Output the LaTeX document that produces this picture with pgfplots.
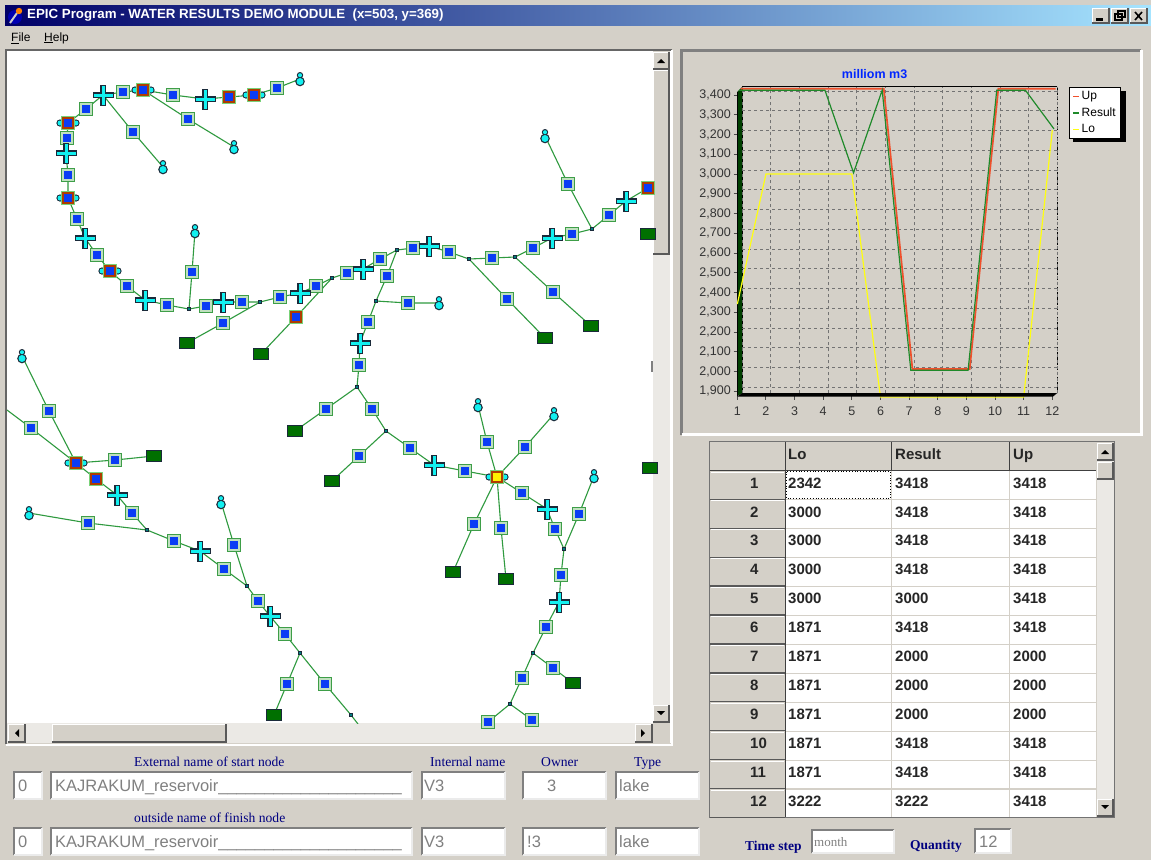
\documentclass[border=0pt]{standalone}
\usepackage{fontspec}
\setmainfont{Liberation Sans}
\newfontfamily\serif{Liberation Serif}
\usepackage{pgfplots}
\pgfplotsset{compat=1.18}

\definecolor{win}{HTML}{D4D0C8}
\definecolor{track}{HTML}{EBE9E5}
\definecolor{navy}{HTML}{000080}
\definecolor{greytxt}{HTML}{808080}
\definecolor{edgegreen}{HTML}{2F9A3F}
\definecolor{framegreen}{HTML}{3E9E48}
\definecolor{ringgreen}{HTML}{BFE0BF}
\definecolor{nodeblue}{HTML}{0A3CF5}
\definecolor{nodered}{HTML}{B03C00}
\definecolor{nodecyan}{HTML}{12F0F0}
\definecolor{outl}{HTML}{1A2A3A}
\definecolor{lake}{HTML}{007000}
\definecolor{upred}{HTML}{F0502C}
\definecolor{resgreen}{HTML}{1F8A2A}
\definecolor{loyellow}{HTML}{FFFF10}

% mark helpers, 1pt = 1 pixel
\newcommand{\mrect}[3]{\pgfsetfillcolor{#1}\pgfpathrectanglecorners{\pgfpoint{-#2pt}{-#3pt}}{\pgfpoint{#2pt}{#3pt}}\pgfusepathqfill}
\newcommand{\mcirc}[4]{\pgfsetfillcolor{#1}\pgfpathcircle{\pgfpoint{#2pt}{#3pt}}{#4pt}\pgfusepathqfill}
\pgfdeclareplotmark{pool}{\mrect{framegreen}{7.4}{7.4}\mrect{ringgreen}{5.9}{5.9}\mrect{nodeblue}{4.2}{4.2}}
\pgfdeclareplotmark{res}{\mrect{green!50!gray!70}{7.4}{7.4}\mrect{nodered}{6.3}{6.3}\mrect{nodeblue}{4.3}{4.3}}
\pgfdeclareplotmark{resnub}{\mcirc{outl}{-8}{0}{3.6}\mcirc{outl}{8}{0}{3.6}\mcirc{nodecyan}{-8}{0}{2.5}\mcirc{nodecyan}{8}{0}{2.5}\mrect{green!50!gray!70}{7.4}{7.4}\mrect{nodered}{6.3}{6.3}\mrect{nodeblue}{4.3}{4.3}}
\pgfdeclareplotmark{sel}{\mcirc{outl}{-8}{0}{3.6}\mcirc{outl}{8}{0}{3.6}\mcirc{nodecyan}{-8}{0}{2.5}\mcirc{nodecyan}{8}{0}{2.5}\mrect{green!50!gray!70}{7.4}{7.4}\mrect{nodered}{6.3}{6.3}\mrect{yellow}{4.3}{4.3}}
\pgfdeclareplotmark{plusn}{%
  \pgfsetfillcolor{outl}\pgfpathrectanglecorners{\pgfpoint{-10.5pt}{-2.6pt}}{\pgfpoint{10.5pt}{2.6pt}}\pgfusepathqfill
  \pgfpathrectanglecorners{\pgfpoint{-2.6pt}{-10.5pt}}{\pgfpoint{2.6pt}{10.5pt}}\pgfusepathqfill
  \pgfsetfillcolor{nodecyan}\pgfpathrectanglecorners{\pgfpoint{-9.5pt}{-1.5pt}}{\pgfpoint{9.5pt}{1.5pt}}\pgfusepathqfill
  \pgfpathrectanglecorners{\pgfpoint{-1.5pt}{-9.5pt}}{\pgfpoint{1.5pt}{9.5pt}}\pgfusepathqfill}
\pgfdeclareplotmark{drop}{\mcirc{outl}{0}{3.8}{3.2}\mcirc{outl}{0}{-2.5}{4.8}\mcirc{nodecyan}{0}{3.8}{2}\mcirc{nodecyan}{0}{-2.5}{3.5}}
\pgfdeclareplotmark{outlet}{\mrect{outl}{8}{5.7}\mrect{lake}{7}{4.7}}
\pgfdeclareplotmark{joint}{\mrect{outl}{2.2}{2.2}\mrect{teal}{1.2}{1.2}}

\newcommand{\sunken}[4]{%
  \fill[white] (#1,#2) rectangle (#3,#4);
  \draw[gray,line width=2pt] (#1,#4) -- (#1,#2) -- (#3,#2);
  \draw[white!92!black,line width=1.2pt] (#1,#4) -- (#3,#4) -- (#3,#2);}
\newcommand{\btn}[4]{%
  \fill[win] (#1,#2) rectangle (#3,#4);
  \draw[white,line width=1pt] (#1,#4) -- (#1,#2) -- (#3,#2);
  \draw[black!65,line width=1.2pt] (#1,#4) -- (#3,#4) -- (#3,#2);}

\begin{document}
\begin{tikzpicture}
\path[use as bounding box] (0pt,0pt) rectangle (1151pt,-860pt);

\begin{scope}[x=1pt,y=-1pt]
% window
\fill[win] (0,0) rectangle (1151,860);
\shade[left color=black!10!blue!45!black,right color=blue!30!cyan!35!white] (5,5) rectangle (1151,25);
\fill[blue!70!black] (15,17) circle (7);
\draw[gray!40,line width=2pt] (10,23) -- (17,13);
\fill[orange] (19,11) circle (3.2);
\node[anchor=west,inner sep=0pt,text=white,font=\fontsize{13.3}{14}\selectfont\bfseries] at (27,15.5) {EPIC Program - WATER RESULTS DEMO MODULE\ \ (x=503, y=369)};
\btn{1092}{8}{1109}{23}\btn{1111}{8}{1128}{23}\btn{1130}{8}{1147}{23}
\fill[black] (1096,18) rectangle (1103,20.5);
\draw[black,line width=1.2pt] (1118,11) rectangle (1125,17) (1115,14) rectangle (1122,20);
\draw[black,line width=1.6pt] (1135,12) -- (1142,20) (1142,12) -- (1135,20);
\node[anchor=west,inner sep=0pt,font=\fontsize{12}{14}\selectfont] at (11,38) {\underline{F}ile};
\node[anchor=west,inner sep=0pt,font=\fontsize{12}{14}\selectfont] at (44,38) {\underline{H}elp};

% map pane
\fill[white] (6,50) rectangle (672,743);
\draw[gray!80!black,line width=2pt] (6,744) -- (6,50) -- (672,50);
\draw[white,line width=2pt] (6,744.5) -- (672,744.5) -- (672,50);
\fill[win] (653,51) rectangle (670,743);
\fill[track] (653,255) rectangle (670,705);
\btn{653}{52}{669}{69}\btn{653}{70}{669}{254}\btn{653}{705}{669}{722}
\fill[black] (657,63) -- (665,63) -- (661,59) -- cycle;
\fill[black] (657,711) -- (665,711) -- (661,715) -- cycle;
\fill[track] (7,723) rectangle (653,743);
\btn{8}{724}{25}{742}\btn{52}{724}{226}{742}\btn{635}{724}{652}{742}
\fill[black] (19,729) -- (19,737) -- (15,733) -- cycle;
\fill[black] (641,729) -- (641,737) -- (645,733) -- cycle;

% chart panel
\draw[gray,line width=3pt] (681.5,435) -- (681.5,50) -- (1141,50);
\draw[white,line width=3pt] (681.5,434) -- (1141,434) -- (1141,50);
\fill[black] (1073,91) rectangle (1125.7,142.3);
% left wall of the chart
\fill[black!35!green!38!black] (742.3,86.7) -- (737.3,91.7) -- (737.3,396) -- (742.3,393.3) -- cycle;
\draw[black,line width=1pt] (737.3,91.7) -- (737.3,396);
\draw[black,line width=1pt] (742.3,393.3) -- (742.3,86.7) -- (1057.3,86.7);
\draw[black,line width=1pt,dash pattern=on 3pt off 2pt] (1057.3,86.7) -- (1057.3,393.3);
\foreach \k in {0,...,11} \draw[black!70,line width=1pt] ({737.3+\k*28.65},396) -- ({737.3+\k*28.65},400);
\foreach \k in {0,...,15} \draw[black!70,line width=1pt] (733.5,{95+\k*19.75}) -- (737.3,{95+\k*19.75});

% table
\fill[black!55] (709,441) rectangle (1115,818);
\fill[win] (710,442) rectangle (1114,817);
\foreach \a/\b in {786/891,892/1009,1010/1096} \fill[white] (\a,471) rectangle (\b,817);
\foreach \k in {1,...,11} \draw[win,line width=1.2pt] (786,{470.6+\k*28.95}) -- (1096,{470.6+\k*28.95});
\draw[black!75,line width=1.2pt] (785.5,442) -- (785.5,817);
\draw[black!75,line width=1.2pt] (710,470.2) -- (1096,470.2);
\draw[black!75,line width=1.2pt] (891.5,442) -- (891.5,470) (1009.5,442) -- (1009.5,470);
\foreach \k in {0,...,11} {
  \draw[black!65,line width=1.2pt] (710,{499.2+\k*28.95}) -- (785,{499.2+\k*28.95});
  \draw[white,line width=1pt] (711,{472+\k*28.95}) -- (784,{472+\k*28.95});}
\draw[black,line width=.8pt,dotted] (786.5,471.5) rectangle (890.5,498.5);
\fill[track] (1097,461) rectangle (1114,816);
\btn{1097}{443}{1113}{460}\btn{1097}{462}{1113}{479}\btn{1097}{799}{1113}{816}
\fill[black] (1101,454) -- (1109,454) -- (1105,450) -- cycle;
\fill[black] (1101,805) -- (1109,805) -- (1105,809) -- cycle;
\begin{scope}[every node/.style={anchor=west,inner sep=0pt,text=black!85,font=\fontsize{15}{16}\selectfont\bfseries}]
\node[anchor=base west] at (788,459.4) {Lo};
\node[anchor=base west] at (895,459.4) {Result};
\node[anchor=base west] at (1013,459.4) {Up};
\foreach \n/\lo/\re/\up [count=\k from 0] in {
  1/2342/3418/3418,2/3000/3418/3418,3/3000/3418/3418,4/3000/3418/3418,5/3000/3000/3418,6/1871/3418/3418,
  7/1871/2000/2000,8/1871/2000/2000,9/1871/2000/2000,10/1871/3418/3418,11/1871/3418/3418,12/3222/3222/3418} {
  \node at (750,{483+\k*28.9}) {\n};
  \node at (788,{483+\k*28.9}) {\lo};
  \node at (895,{483+\k*28.9}) {\re};
  \node at (1013,{483+\k*28.9}) {\up};}
\end{scope}

% lower fields
\begin{scope}[every node/.style={anchor=base west,inner sep=0pt,text=navy,font=\serif\fontsize{13.6}{14}\selectfont}]
\node at (134,766) {External name of start node};
\node at (430,766) {Internal name};
\node at (541,766) {Owner};
\node at (634,766) {Type};
\node at (134,822) {outside name of finish node};
\end{scope}
\foreach \ya/\yb in {772/799,828/855} {
  \sunken{14}{\ya}{42}{\yb}\sunken{51}{\ya}{412}{\yb}\sunken{422}{\ya}{505}{\yb}\sunken{523}{\ya}{606}{\yb}\sunken{616}{\ya}{699}{\yb}}
\begin{scope}[every node/.style={anchor=base west,inner sep=0pt,text=greytxt,font=\fontsize{16.5}{17}\selectfont}]
\foreach \y/\own/\ox in {791.7/3/547,847.7/!3/527} {
  \node at (18,\y) {0};
  \node at (55,\y) {KAJRAKUM\_reservoir\_\_\_\_\_\_\_\_\_\_\_\_\_\_\_\_\_\_\_\_};
  \node at (424,\y) {V3};
  \node at (\ox,\y) {\own};
  \node at (619,\y) {lake};}
\end{scope}
\sunken{812}{830}{894}{853}\sunken{975}{829}{1011}{853}
\node[anchor=base west,inner sep=0pt,text=navy,font=\serif\bfseries\fontsize{13.5}{14}\selectfont] at (745,850) {Time step};
\node[anchor=base west,inner sep=0pt,text=navy,font=\serif\bfseries\fontsize{13.5}{14}\selectfont] at (910,849.5) {Quantity};
\node[anchor=base west,inner sep=0pt,text=greytxt,font=\serif\fontsize{13}{14}\selectfont] at (814,846) {month};
\node[anchor=base west,inner sep=0pt,text=greytxt,font=\fontsize{16.5}{17}\selectfont] at (979,847) {12};
\end{scope}

% network map, pixel coordinates of the screen
\begin{axis}[
  name=map, at={(7pt,-51pt)}, anchor=north west,
  width=646pt, height=672pt, scale only axis, hide axis,
  xmin=7, xmax=653, ymin=51, ymax=723, y dir=reverse,
  edge/.style={color=edgegreen,line width=1.1pt,mark=none,forget plot},
  nd/.style={only marks,mark=#1,forget plot},
]
\addplot[edge] coordinates {(300,79)(277,88)(254,95)(229,97)(205,99)(173,95)(143,90)(123,92)(103,95)(86,109)(68,123)(67,138)(66,153)(68,175)(68,198)(77,219)(85,238)(97,255)(110,271)(127,286)(145,300)(167,305)(189,309)(206,306)(223,302)(242,302)(260,302)(280,297)(300,293)(316,286)(332,278)(347,273)(363,269)(380,259)(397,250)(413,248)(429,246)(449,252)(469,259)(492,258)(515,257)(533,248)(552,238)(572,234)(592,229)(609,215)(626,201)(648,188)};
\addplot[edge] coordinates {(103,95)(133,132)(163,167)};
\addplot[edge] coordinates {(143,90)(188,119)(234,147)};
\addplot[edge] coordinates {(195,231)(192,272)(189,309)};
\addplot[edge] coordinates {(260,302)(223,323)(187,343)};
\addplot[edge] coordinates {(332,278)(296,317)(261,354)};
\addplot[edge] coordinates {(397,250)(387,276)(376,301)(368,322)(360,343)(359,365)(357,387)(372,409)(386,431)(410,448)(434,465)(465,471)(497,477)};
\addplot[edge] coordinates {(376,301)(408,303)(439,303)};
\addplot[edge] coordinates {(357,387)(326,409)(295,431)};
\addplot[edge] coordinates {(386,431)(359,456)(332,481)};
\addplot[edge] coordinates {(469,259)(507,299)(545,338)};
\addplot[edge] coordinates {(515,257)(553,292)(591,326)};
\addplot[edge] coordinates {(592,229)(568,184)(545,136)};
\addplot[edge] coordinates {(497,477)(487,442)(478,405)};
\addplot[edge] coordinates {(497,477)(525,447)(554,414)};
\addplot[edge] coordinates {(497,477)(474,524)(453,572)};
\addplot[edge] coordinates {(497,477)(501,528)(506,579)};
\addplot[edge] coordinates {(497,477)(522,493)(547,509)(555,529)(564,549)(561,575)(559,602)(546,627)(533,653)(522,678)(510,704)(488,722)};
\addplot[edge] coordinates {(510,704)(532,720)};
\addplot[edge] coordinates {(533,653)(553,668)(573,683)};
\addplot[edge] coordinates {(564,549)(579,514)(594,476)};
\addplot[edge] coordinates {(22,356)(49,411)(76,463)};
\addplot[edge] coordinates {(7,410)(31,428)(76,463)};
\addplot[edge] coordinates {(76,463)(115,460)(154,456)};
\addplot[edge] coordinates {(76,463)(96,479)(117,495)(132,513)(147,530)(174,541)(200,551)(224,569)(247,586)(258,601)(270,616)(285,634)(300,653)(287,684)(274,715)};
\addplot[edge] coordinates {(300,653)(325,684)(351,715)(358,724)};
\addplot[edge] coordinates {(29,513)(88,523)(147,530)};
\addplot[edge] coordinates {(221,502)(234,545)(247,586)};

\addplot[nd=pool] coordinates {(123,92)(173,95)(277,88)(86,109)(67,138)(133,132)(188,119)(68,175)(77,219)(97,255)(127,286)(167,305)(206,306)(242,302)(280,297)(316,286)(223,323)(192,272)
  (347,273)(380,259)(387,276)(413,248)(449,252)(492,258)(533,248)(572,234)(609,215)(568,184)(553,292)(507,299)(408,303)(368,322)(359,365)
  (49,411)(31,428)(115,460)(132,513)(88,523)(174,541)(224,569)(234,545)(258,601)(285,634)(287,684)(325,684)(326,409)
  (372,409)(359,456)(410,448)(465,471)(487,442)(525,447)(522,493)(474,524)(501,528)(555,529)(579,514)(561,575)(546,627)(553,668)(522,678)(488,722)(532,720)};
\addplot[nd=plusn] coordinates {(103,95)(205,99)(66,153)(85,238)(145,300)(223,302)(300,293)(363,269)(429,246)(552,238)(626,201)(360,343)(117,495)(200,551)(270,616)(434,465)(547,509)(559,602)};
\addplot[nd=resnub] coordinates {(143,90)(254,95)(68,123)(68,198)(110,271)(76,463)};
\addplot[nd=res] coordinates {(229,97)(296,317)(648,188)(96,479)};
\addplot[nd=sel] coordinates {(497,477)};
\addplot[nd=drop] coordinates {(300,79)(234,147)(163,167)(195,231)(545,136)(439,303)(22,356)(29,513)(221,502)(478,405)(554,414)(594,476)};
\addplot[nd=outlet] coordinates {(187,343)(261,354)(545,338)(591,326)(648,234)(154,456)(295,431)(332,481)(650,468)(274,715)(453,572)(506,579)(573,683)};
\addplot[nd=joint] coordinates {(189,309)(260,302)(332,278)(397,250)(469,259)(515,257)(592,229)(376,301)(357,387)(386,431)(147,530)(247,586)(300,653)(564,549)(533,653)(510,704)(351,715)};
\end{axis}

% the chart
\begin{axis}[
  name=chart, at={(742.3pt,-86.7pt)}, anchor=north west,
  width=315pt, height=306.6pt, scale only axis, clip=false,
  axis line style={draw=none},
  xmin=1, xmax=12, ymin=1870, ymax=3422,
  xtick={1,...,12}, ytick={1900,2000,...,3400},
  scaled ticks=false, major tick length=0pt,
  /pgf/number format/assume math mode=true,
  /pgf/number format/1000 sep={,},
  ticklabel style={font=\fontsize{12.5}{14}\selectfont,text=black!80},
  xticklabel style={xshift=-5pt,yshift=-10pt},
  yticklabel style={xshift=-8pt,yshift=-4pt},
  grid=major, grid style={gray!90!black,line width=.9pt,dash pattern=on 3pt off 3pt},
  title={\textbf{milliom m3}},
  title style={text=blue!85!cyan,font=\fontsize{12.5}{14}\selectfont,at={(0.42,1)},yshift=-1pt,anchor=south},
  legend style={at={(1.037,1)},anchor=north west,draw=black,fill=white,line width=.8pt,
    font=\fontsize{12}{14}\selectfont,inner xsep=3pt,inner ysep=2.5pt,row sep=2.5pt},
  legend cell align=left,
  legend image code/.code={\draw[#1,line width=1.8pt] (0pt,0pt) -- (5.5pt,0pt);},
]
\addlegendimage{upred}\addlegendentry{Up}
\addlegendimage{resgreen}\addlegendentry{Result}
\addlegendimage{loyellow}\addlegendentry{Lo}
\addplot[forget plot,upred,line width=1.7pt,xshift=-1.7pt,yshift=-1.3pt] coordinates {(1,3418)(2,3418)(3,3418)(4,3418)(5,3418)(6,3418)(7,2000)(8,2000)(9,2000)(10,3418)(11,3418)(12,3418)};
\addplot[forget plot,resgreen,line width=1.2pt,xshift=-3.3pt,yshift=-2.7pt] coordinates {(1,3418)(2,3418)(3,3418)(4,3418)(5,3000)(6,3418)(7,2000)(8,2000)(9,2000)(10,3418)(11,3418)(12,3222)};
\addplot[forget plot,loyellow,line width=1.2pt,xshift=-5pt,yshift=-4pt] coordinates {(1,2342)(2,3000)(3,3000)(4,3000)(5,3000)(6,1871)(7,1871)(8,1871)(9,1871)(10,1871)(11,1871)(12,3222)};
\end{axis}

\begin{scope}[x=1pt,y=-1pt]
\fill[black] (737.3,396.5) -- (742.3,393) -- (1057.3,393) -- (1053,396.5) -- cycle;
\fill[gray] (650.5,361) rectangle (652.5,372);
\end{scope}
\end{tikzpicture}
\end{document}
